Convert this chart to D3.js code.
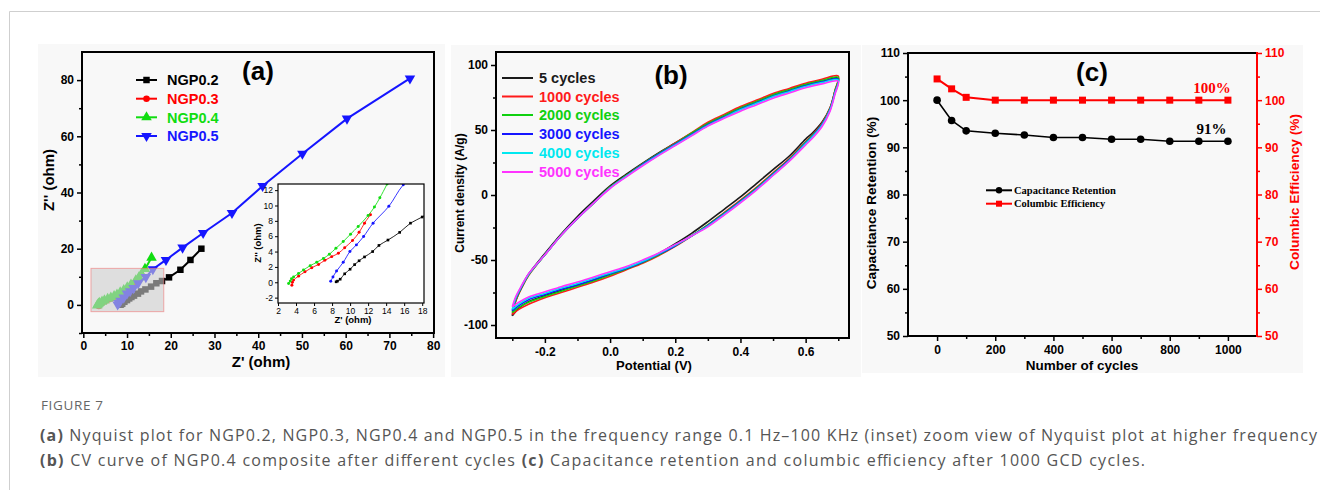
<!DOCTYPE html>
<html><head><meta charset="utf-8">
<script src="https://cdn.jsdelivr.net/npm/d3@7"></script>
<style>
body{margin:0;background:#fff;}
svg{display:block;}
</style></head><body>
<svg id="fig" width="1320" height="490"></svg>
<script>
// ---------------- DATA ----------------
// (a) Nyquist
const nyqNames = ["NGP0.2","NGP0.3","NGP0.4","NGP0.5"];
const nyqColors = ["#000000","#ff0000","#10dd10","#1515ff"];
const ngp02Re = [8.45,8.6,8.9,9.4,10.0,10.5,11.0,11.6,12.5,13.2,14.2,15.5,16.7,18.0,19.6,22.2,24.5,27.0];
const ngp02Im = [0.06,0.15,0.4,1.1,1.7,2.3,2.8,3.3,4.0,4.8,5.5,6.5,7.7,8.5,9.8,12.5,16.0,20.0];
const ngp03Re = [3.54,3.6,3.73,4.28,5.0,5.75,6.5,7.2,7.96,8.7,9.4,10.27,11.0,11.6,12.26];
const ngp03Im = [-0.38,0.0,0.28,0.8,1.37,1.9,2.33,2.86,3.34,3.78,4.5,5.44,6.5,7.7,8.8];
const ngp04Re = [3.18,3.36,3.5,3.73,4.28,4.83,5.57,6.3,7.04,7.7,8.43,9.24,10.05,10.9,12.0,12.7,13.3,14.1,15.6];
const ngp04Im = [-0.16,0.15,0.45,0.7,1.15,1.6,2.16,2.6,3.1,3.65,4.43,5.3,6.27,7.27,8.7,9.8,11.0,12.8,16.8];
const ngp05Re = [7.85,8.1,8.5,9.24,9.98,10.7,11.5,12.55,14.3,15.9,18.9,22.7,27.4,34.0,41.0,50.1,60.3,74.7];
const ngp05Im = [0.14,0.7,1.46,2.6,4.0,4.87,5.96,7.7,9.9,12.7,16.0,20.4,25.6,32.7,42.3,53.8,66.3,80.6];
const aXTicks = [0,10,20,30,40,50,60,70,80];
const aXMinor = [5,15,25,35,45,55,65,75];
const aYTicks = [0,20,40,60,80];
const aYMinor = [-10,10,30,50,70];
const insetXTicks = [2,4,6,8,10,12,14,16,18];
const insetYTicks = [-2,0,2,4,6,8,10,12];
const zoomBox = {x0:1.75, x1:18.4, y0:-2.4, y1:13.0};

// (b) CV curves
const cvNames = ["5 cycles","1000 cycles","2000 cycles","3000 cycles","4000 cycles","5000 cycles"];
const cvColors = ["#1a1a1a","#ff1a1a","#10d010","#1515ff","#00e8f0","#ff33ff"];
const cvPotential = [-0.3,-0.29,-0.27,-0.25,-0.2,-0.15,-0.1,-0.05,0,0.05,0.1,0.15,0.2,0.25,0.3,0.35,0.4,0.45,0.5,0.55,0.6,0.65,0.7,
  0.69,0.675,0.65,0.62,0.6,0.55,0.5,0.45,0.4,0.35,0.3,0.25,0.2,0.15,0.1,0.05,0,-0.05,-0.1,-0.15,-0.2,-0.25,-0.28,-0.3];
const cv5 = [-93,-82,-70,-61,-45,-30,-16.5,-4.5,7,16,24.5,32.5,40,47.5,55,61,67,72,77,81,85,88,90,
  80,67,56,47.5,43,30,19.5,9,-1.5,-11,-20.5,-29.5,-37.5,-45,-51.5,-56.5,-61,-65.5,-69.5,-73.5,-77.5,-82,-87,-93];
const cv1000 = [-92,-82,-71,-62,-46,-31,-18,-6,6,15,24,32,40,48,56,62,68,73,78,82,86,89,91.5,
  80.5,67,55,46,41,28,17,6,-4,-13.5,-23,-31.5,-39.5,-46.5,-52.5,-57.5,-62.5,-67,-71,-75,-79,-84,-88,-92];
const cv2000 = [-90.5,-81,-70.5,-61.5,-46,-31,-18,-6,6,15,24,32,39.5,47.5,55,61,67,72,77,81,85,88,90.5,
  80,66.5,54.5,45.5,40.5,27.5,16.5,5.5,-4.5,-14,-23,-31.5,-39,-46,-52,-57,-61.5,-66,-70,-74,-78,-82.5,-86.5,-90.5];
const cv3000 = [-89,-80,-70,-61,-46,-31,-18,-6,5.5,14.5,23.5,31.5,39,46.5,54,60,66,71,76,80,84,87,89,
  79,66,54,45,40,27,16,5,-5,-14.5,-23.5,-31.5,-39,-45.5,-51.5,-56.5,-60.5,-65,-69,-72.5,-76.5,-80.5,-85,-89];
const cv4000 = [-88,-79.5,-69.5,-61,-46,-31,-18,-6,5.5,14.5,23,31,38.5,46,53.5,59.5,65.5,70.5,75.5,79.5,83.5,86.5,88.5,
  78.5,65.5,53.5,44.5,39.5,26.5,15.5,4.5,-5.5,-15,-24,-31.5,-38.5,-45,-51,-56,-60,-64,-68,-71.5,-75.5,-79.5,-84,-88];
const cv5000 = [-86,-78.5,-69,-60.5,-46,-31,-18,-6,5,14,22.5,30.5,38,45.5,53,59,64.5,69.5,74.5,78.5,82.5,85.5,87.5,
  77.5,64.5,52.5,43.5,38.5,26,15,4,-6,-15.5,-24.5,-31.5,-38,-44.5,-50,-55,-59,-63,-67,-70.5,-74.5,-78.5,-82.5,-86];
const bXTicks = [-0.2,0.0,0.2,0.4,0.6];
const bXMinor = [-0.3,-0.1,0.1,0.3,0.5,0.7];
const bYTicks = [-100,-50,0,50,100];
const bYMinor = [-75,-25,25,75];

// (c) cycling
const cycles = [0,50,100,200,300,400,500,600,700,800,900,1000];
const retention = [100,95.7,93.5,93.0,92.6,92.1,92.1,91.7,91.7,91.3,91.3,91.3];
const efficiency = [104.5,102.4,100.6,100,100,100,100,100,100,100,100,100];
const cXTicks = [0,200,400,600,800,1000];
const cXMinor = [100,300,500,700,900];
const cYTicks = [50,60,70,80,90,100,110];
const cYMinor = [55,65,75,85,95,105];

// ---------------- DRAW ----------------
const svg = d3.select("#fig");
const SANS = "'Liberation Sans', Arial, sans-serif";
const SERIF = "'Liberation Serif', 'Times New Roman', serif";
const hy = f => (v => f(v).replace("\u2212","-"));

// frame
svg.append("line").attr("x1",9.5).attr("x2",1320).attr("y1",11.5).attr("y2",11.5).attr("stroke","#cfcfcf");
svg.append("line").attr("x1",9.5).attr("x2",9.5).attr("y1",11.5).attr("y2",490).attr("stroke","#cfcfcf");

// panel backgrounds
[[38,44,407,333],[451,45,410,332],[862,45,441,328]].forEach(p=>{
  svg.append("rect").attr("x",p[0]).attr("y",p[1]).attr("width",p[2]).attr("height",p[3]).attr("fill","#f8f8f8");
});

const defs = svg.append("defs");
function clip(id,x,y,w,h){defs.append("clipPath").attr("id",id).append("rect").attr("x",x).attr("y",y).attr("width",w).attr("height",h);}

function axis(g, gen, opts){
  g.call(gen);
  g.select(".domain").remove();
  g.selectAll(".tick line").attr("stroke",opts.color||"#000").attr("stroke-width",opts.tw||1.5);
  g.selectAll(".tick text").attr("fill",opts.color||"#000").style("font-family",SANS)
    .style("font-weight",opts.weight||"bold").style("font-size",(opts.fs||12)+"px");
  return g;
}
function box(x0,y0,x1,y1,w,color){
  svg.append("rect").attr("x",x0).attr("y",y0).attr("width",x1-x0).attr("height",y1-y0)
    .attr("fill","none").attr("stroke",color||"#000").attr("stroke-width",w);
}

// ===== Panel (a) =====
const xA = d3.scaleLinear().domain([-0.3,80.2]).range([82,434]);
const yA = d3.scaleLinear().domain([-10,90]).range([333,52]);
clip("clipA",82,52,352,281);
axis(svg.append("g").attr("transform","translate(0,333)"), d3.axisBottom(xA).tickValues(aXTicks).tickSize(5).tickPadding(3), {});
axis(svg.append("g").attr("transform","translate(0,333)"), d3.axisBottom(xA).tickValues(aXMinor).tickSize(3).tickFormat(""), {});
axis(svg.append("g").attr("transform","translate(82,0)"), d3.axisLeft(yA).tickValues(aYTicks).tickSize(5).tickPadding(3), {});
axis(svg.append("g").attr("transform","translate(82,0)"), d3.axisLeft(yA).tickValues(aYMinor).tickSize(3).tickFormat(""), {});
box(82,52,434,333,2);

const nyqData = [
  d3.zip(ngp02Re,ngp02Im), d3.zip(ngp03Re,ngp03Im), d3.zip(ngp04Re,ngp04Im), d3.zip(ngp05Re,ngp05Im)
];
const symTypes = [d3.symbolSquare, d3.symbolCircle, d3.symbolTriangle, d3.symbolTriangle];
const symSizes = [42, 34, 48, 48];
const symRot = [0,0,0,180];

const gA = svg.append("g").attr("clip-path","url(#clipA)");
nyqData.forEach((d,i)=>{
  const line = d3.line().x(p=>xA(p[0])).y(p=>yA(p[1]));
  gA.append("path").attr("d",line(d)).attr("fill","none").attr("stroke",nyqColors[i]).attr("stroke-width",2);
  gA.selectAll(null).data(d).enter().append("path")
    .attr("d",d3.symbol().type(symTypes[i]).size(symSizes[i]))
    .attr("transform",p=>`translate(${xA(p[0])},${yA(p[1])}) rotate(${symRot[i]})`)
    .attr("fill",nyqColors[i]);
});
// zoom region overlay
svg.append("rect").attr("x",xA(zoomBox.x0)).attr("y",yA(zoomBox.y1))
  .attr("width",xA(zoomBox.x1)-xA(zoomBox.x0)).attr("height",yA(zoomBox.y0)-yA(zoomBox.y1))
  .attr("fill","rgba(205,205,205,0.6)").attr("stroke","rgba(240,120,120,0.6)").attr("stroke-width",1);

// legend (a)
const legAY = [80,98.7,117.3,136];
nyqNames.forEach((n,i)=>{
  svg.append("line").attr("x1",136).attr("x2",157).attr("y1",legAY[i]).attr("y2",legAY[i]).attr("stroke",nyqColors[i]).attr("stroke-width",2);
  svg.append("path").attr("d",d3.symbol().type(symTypes[i]).size(symSizes[i])())
    .attr("transform",`translate(146.5,${legAY[i]}) rotate(${symRot[i]})`).attr("fill",nyqColors[i]);
  svg.append("text").attr("x",167).attr("y",legAY[i]+5.2).text(n).attr("fill",nyqColors[i])
    .style("font-family",SANS).style("font-weight","bold").style("font-size","14.5px");
});
svg.append("text").attr("x",258).attr("y",80).attr("text-anchor","middle").text("(a)")
  .style("font-family",SANS).style("font-weight","bold").style("font-size","26px");
svg.append("text").attr("x",261).attr("y",367).attr("text-anchor","middle").text("Z' (ohm)")
  .style("font-family",SANS).style("font-weight","bold").style("font-size","15px");
svg.append("text").attr("transform","translate(54,180) rotate(-90)").attr("text-anchor","middle").text("Z'' (ohm)")
  .style("font-family",SANS).style("font-weight","bold").style("font-size","15px");

// inset
const xI = d3.scaleLinear().domain([2,18.2]).range([278,424]);
const yI = d3.scaleLinear().domain([-2.7,12.8]).range([303,184]);
svg.append("rect").attr("x",278).attr("y",184).attr("width",146).attr("height",119).attr("fill","#ffffff");
clip("clipI",278,184,146,119);
axis(svg.append("g").attr("transform","translate(0,303)"), d3.axisBottom(xI).tickValues(insetXTicks).tickSize(3).tickPadding(2), {fs:8.5, weight:"normal", tw:1});
axis(svg.append("g").attr("transform","translate(278,0)"), d3.axisLeft(yI).tickValues(insetYTicks).tickSize(3).tickPadding(2).tickFormat(hy(d3.format("d"))), {fs:8.5, weight:"normal", tw:1});
const gI = svg.append("g").attr("clip-path","url(#clipI)");
nyqData.forEach((d,i)=>{
  const line = d3.line().x(p=>xI(p[0])).y(p=>yI(p[1])).curve(d3.curveCatmullRom);
  gI.append("path").attr("d",line(d)).attr("fill","none").attr("stroke",nyqColors[i]).attr("stroke-width",1).attr("opacity",0.85);
  gI.selectAll(null).data(d).enter().append("path")
    .attr("d",d3.symbol().type(i===0?d3.symbolSquare:d3.symbolCircle).size(7))
    .attr("transform",p=>`translate(${xI(p[0])},${yI(p[1])})`)
    .attr("fill",nyqColors[i]);
});
box(278,184,424,303,1.2);
svg.append("text").attr("x",353).attr("y",323).attr("text-anchor","middle").text("Z' (ohm)")
  .style("font-family",SANS).style("font-weight","bold").style("font-size","9.5px");
svg.append("text").attr("transform","translate(261,243) rotate(-90)").attr("text-anchor","middle").text("Z'' (ohm)")
  .style("font-family",SANS).style("font-weight","bold").style("font-size","9.5px");

// ===== Panel (b) =====
const xB = d3.scaleLinear().domain([-0.35,0.733]).range([496,849]);
const yB = d3.scaleLinear().domain([-110,110]).range([338,52]);
clip("clipB",496,52,353,286);
axis(svg.append("g").attr("transform","translate(0,338)"), d3.axisBottom(xB).tickValues(bXTicks).tickSize(5).tickPadding(4).tickFormat(hy(d3.format(".1f"))), {});
axis(svg.append("g").attr("transform","translate(0,338)"), d3.axisBottom(xB).tickValues(bXMinor).tickSize(3).tickFormat(""), {});
axis(svg.append("g").attr("transform","translate(496,0)"), d3.axisLeft(yB).tickValues(bYTicks).tickSize(5).tickPadding(3).tickFormat(hy(d3.format("d"))), {});
axis(svg.append("g").attr("transform","translate(496,0)"), d3.axisLeft(yB).tickValues(bYMinor).tickSize(3).tickFormat(""), {});
const cvSeries = [cv5,cv1000,cv2000,cv3000,cv4000,cv5000];
const gB = svg.append("g").attr("clip-path","url(#clipB)");
cvSeries.forEach((s,i)=>{
  const pts = d3.zip(cvPotential,s);
  const line = d3.line().x(p=>xB(p[0])).y(p=>yB(p[1])).curve(d3.curveCatmullRom.alpha(0.5));
  gB.append("path").attr("d",line(pts)).attr("fill","none").attr("stroke",cvColors[i]).attr("stroke-width",1.6);
});
box(496,52,849,338,2);
const legBY = [78,96.5,115,134,153,172];
cvNames.forEach((n,i)=>{
  svg.append("line").attr("x1",502).attr("x2",533).attr("y1",legBY[i]).attr("y2",legBY[i]).attr("stroke",cvColors[i]).attr("stroke-width",2);
  svg.append("text").attr("x",539).attr("y",legBY[i]+5.2).text(n).attr("fill",cvColors[i])
    .style("font-family",SANS).style("font-weight","bold").style("font-size","14.5px");
});
svg.append("text").attr("x",671).attr("y",84).attr("text-anchor","middle").text("(b)")
  .style("font-family",SANS).style("font-weight","bold").style("font-size","26px");
svg.append("text").attr("x",654).attr("y",370).attr("text-anchor","middle").text("Potential (V)")
  .style("font-family",SANS).style("font-weight","bold").style("font-size","13px");
svg.append("text").attr("transform","translate(464,193) rotate(-90)").attr("text-anchor","middle").text("Current density (A/g)")
  .style("font-family",SANS).style("font-weight","bold").style("font-size","12px");

// ===== Panel (c) =====
const xC = d3.scaleLinear().domain([-100,1100]).range([908,1257]);
const yC = d3.scaleLinear().domain([50,110]).range([336,53]);
axis(svg.append("g").attr("transform","translate(0,336)"), d3.axisBottom(xC).tickValues(cXTicks).tickSize(5).tickPadding(4).tickFormat(d3.format("d")), {});
axis(svg.append("g").attr("transform","translate(0,336)"), d3.axisBottom(xC).tickValues(cXMinor).tickSize(3).tickFormat(""), {});
axis(svg.append("g").attr("transform","translate(908,0)"), d3.axisLeft(yC).tickValues(cYTicks).tickSize(5).tickPadding(3), {});
axis(svg.append("g").attr("transform","translate(908,0)"), d3.axisLeft(yC).tickValues(cYMinor).tickSize(3).tickFormat(""), {});
axis(svg.append("g").attr("transform","translate(1257,0)"), d3.axisRight(yC).tickValues(cYTicks).tickSize(5).tickPadding(3), {color:"#ff0000"});
axis(svg.append("g").attr("transform","translate(1257,0)"), d3.axisRight(yC).tickValues(cYMinor).tickSize(3).tickFormat(""), {color:"#ff0000"});
svg.append("line").attr("x1",908).attr("x2",1257).attr("y1",53).attr("y2",53).attr("stroke","#000").attr("stroke-width",2);
svg.append("line").attr("x1",908).attr("x2",1257).attr("y1",336).attr("y2",336).attr("stroke","#000").attr("stroke-width",2);
svg.append("line").attr("x1",908).attr("x2",908).attr("y1",52).attr("y2",337).attr("stroke","#000").attr("stroke-width",2);
svg.append("line").attr("x1",1257).attr("x2",1257).attr("y1",52).attr("y2",337).attr("stroke","#ff0000").attr("stroke-width",2);

const retPts = d3.zip(cycles,retention), effPts = d3.zip(cycles,efficiency);
const lineC = d3.line().x(p=>xC(p[0])).y(p=>yC(p[1]));
svg.append("path").attr("d",lineC(effPts)).attr("fill","none").attr("stroke","#ff0000").attr("stroke-width",2);
svg.selectAll(null).data(effPts).enter().append("rect")
  .attr("x",p=>xC(p[0])-3.5).attr("y",p=>yC(p[1])-3.5).attr("width",7).attr("height",7).attr("fill","#ff0000");
svg.append("path").attr("d",lineC(retPts)).attr("fill","none").attr("stroke","#000").attr("stroke-width",1.6);
svg.selectAll(null).data(retPts).enter().append("circle")
  .attr("cx",p=>xC(p[0])).attr("cy",p=>yC(p[1])).attr("r",3.8).attr("fill","#000");

// legend (c)
svg.append("line").attr("x1",986).attr("x2",1012).attr("y1",190.3).attr("y2",190.3).attr("stroke","#000").attr("stroke-width",2);
svg.append("circle").attr("cx",999).attr("cy",190.3).attr("r",3.2).attr("fill","#000");
svg.append("line").attr("x1",986).attr("x2",1012).attr("y1",203.7).attr("y2",203.7).attr("stroke","#ff0000").attr("stroke-width",2);
svg.append("rect").attr("x",996).attr("y",200.7).attr("width",6).attr("height",6).attr("fill","#ff0000");
svg.append("text").attr("x",1014).attr("y",193.8).text("Capacitance Retention")
  .style("font-family",SERIF).style("font-weight","bold").style("font-size","10.5px");
svg.append("text").attr("x",1014).attr("y",207.2).text("Columbic Efficiency")
  .style("font-family",SERIF).style("font-weight","bold").style("font-size","10.5px");

svg.append("text").attr("x",1212).attr("y",93).attr("text-anchor","middle").text("100%").attr("fill","#ff0000")
  .style("font-family",SERIF).style("font-weight","bold").style("font-size","15px");
svg.append("text").attr("x",1211.5).attr("y",134).attr("text-anchor","middle").text("91%").attr("fill","#000")
  .style("font-family",SERIF).style("font-weight","bold").style("font-size","15px");
svg.append("text").attr("x",1092).attr("y",81).attr("text-anchor","middle").text("(c)")
  .style("font-family",SANS).style("font-weight","bold").style("font-size","26px");
svg.append("text").attr("x",1082).attr("y",370).attr("text-anchor","middle").text("Number of cycles")
  .style("font-family",SANS).style("font-weight","bold").style("font-size","13.5px");
svg.append("text").attr("transform","translate(876,203) rotate(-90)").attr("text-anchor","middle").text("Capacitance Retention (%)")
  .style("font-family",SANS).style("font-weight","bold").style("font-size","13.7px");
svg.append("text").attr("transform","translate(1299,192) rotate(-90)").attr("text-anchor","middle").text("Columbic Efficiency (%)")
  .attr("fill","#ff0000").style("font-family",SANS).style("font-weight","bold").style("font-size","13.7px");

// ===== Caption =====
const CAP = "'Open Sans', 'Noto Sans', sans-serif";
svg.append("text").attr("x",41).attr("y",410).text("FIGURE 7").attr("fill","#666")
  .attr("textLength",62).attr("lengthAdjust","spacing")
  .style("font-family",CAP).style("font-size","13.5px");
const l1 = svg.append("text").attr("x",40).attr("y",441).attr("fill","#555")
  .attr("textLength",1277).attr("lengthAdjust","spacing")
  .style("font-family",CAP).style("font-size","16px");
l1.append("tspan").text("(a)").style("font-weight","bold");
l1.append("tspan").text(" Nyquist plot for NGP0.2, NGP0.3, NGP0.4 and NGP0.5 in the frequency range 0.1 Hz\u2013100 KHz (inset) zoom view of Nyquist plot at higher frequency");
const l2 = svg.append("text").attr("x",40).attr("y",466).attr("fill","#555")
  .attr("textLength",1105).attr("lengthAdjust","spacing")
  .style("font-family",CAP).style("font-size","16px");
l2.append("tspan").text("(b)").style("font-weight","bold");
l2.append("tspan").text(" CV curve of NGP0.4 composite after different cycles ");
l2.append("tspan").text("(c)").style("font-weight","bold");
l2.append("tspan").text(" Capacitance retention and columbic efficiency after 1000 GCD cycles.");
</script></body></html>
